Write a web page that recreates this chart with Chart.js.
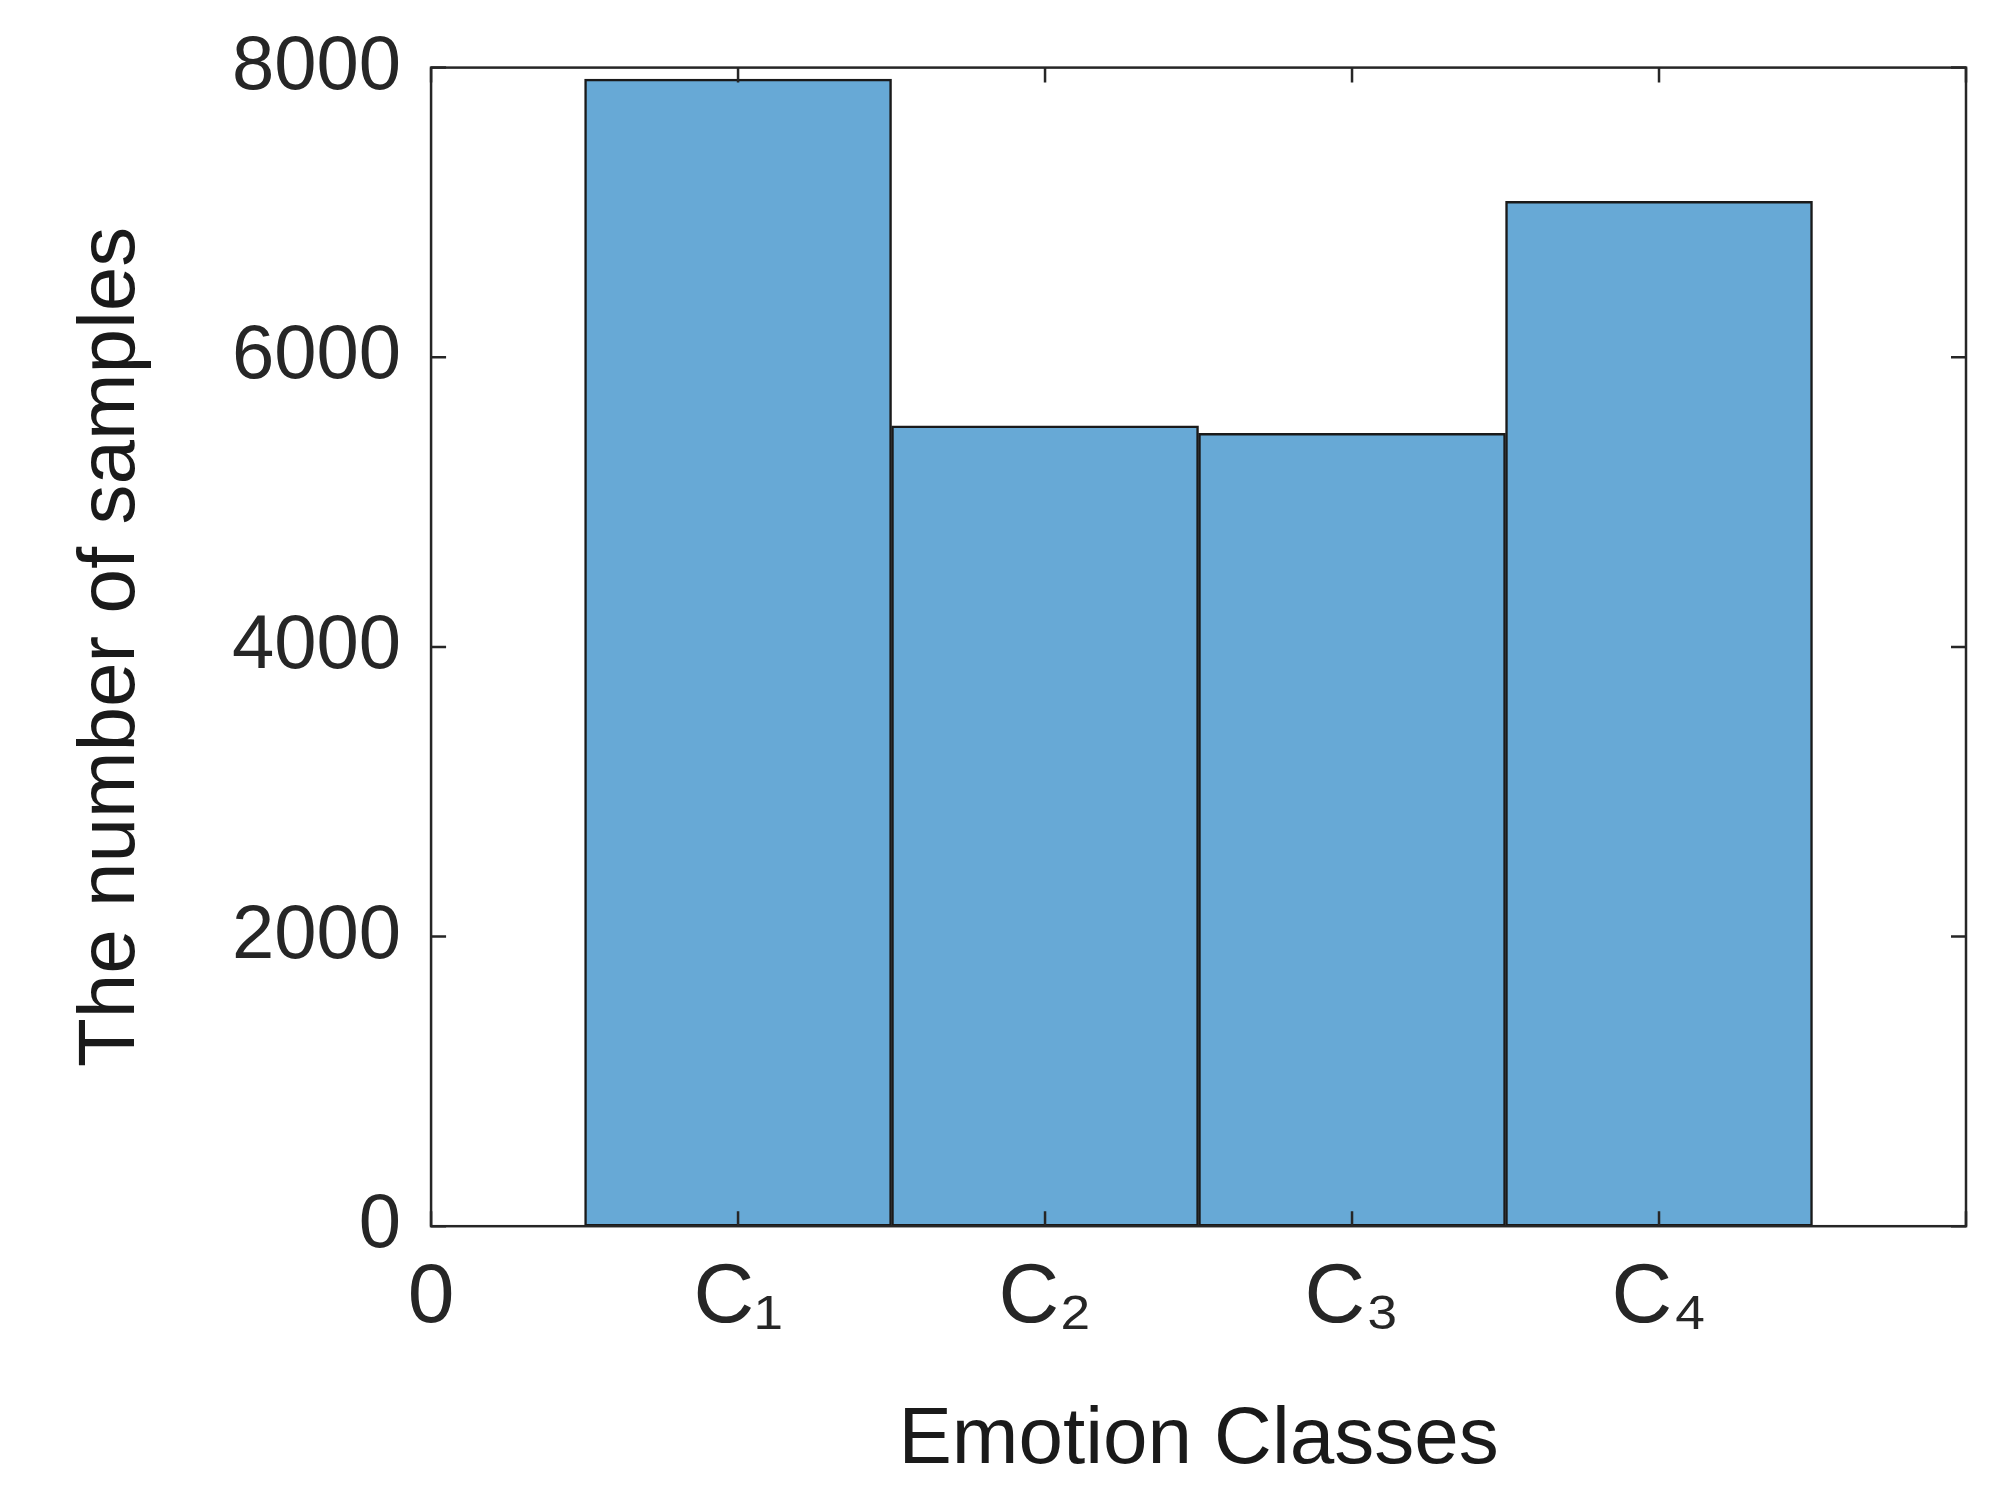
<!DOCTYPE html>
<html>
<head>
<meta charset="utf-8">
<script src="https://cdn.jsdelivr.net/npm/chart.js@4"></script>
<style>
  html, body { margin: 0; background: #fff; }
  #wrap { width: 1989px; height: 1499px; }
</style>
</head>
<body>
<div id="wrap"><canvas id="chart"></canvas></div>
<script>
const classes = ["C₁", "C₂", "C₃", "C₄"];
const positions = [1, 2, 3, 4];
const samples = [7920, 5527, 5474, 7076];
const yTicks = [0, 2000, 4000, 6000, 8000];

const FONT = "'Liberation Sans Narrow', 'Liberation Sans', Arial, sans-serif";

// MATLAB-style box with inward ticks on all four sides
const boxPlugin = {
  id: "box",
  afterDatasetsDraw(chart) {
    const { ctx, chartArea: a, scales } = chart;
    ctx.save();
    ctx.strokeStyle = "#262626";
    ctx.lineWidth = 2.5;
    ctx.strokeRect(a.left, a.top, a.right - a.left, a.bottom - a.top);
    const len = 15;
    ctx.beginPath();
    for (let v = 0; v <= 5; v++) {
      const x = scales.x.getPixelForValue(v);
      ctx.moveTo(x, a.bottom); ctx.lineTo(x, a.bottom - len);
      ctx.moveTo(x, a.top); ctx.lineTo(x, a.top + len);
    }
    yTicks.forEach(v => {
      const y = scales.y.getPixelForValue(v);
      ctx.moveTo(a.left, y); ctx.lineTo(a.left + len, y);
      ctx.moveTo(a.right, y); ctx.lineTo(a.right - len, y);
    });
    ctx.stroke();
    ctx.restore();
  }
};

new Chart(document.getElementById("chart"), {
  type: "bar",
  data: {
    datasets: [{
      data: positions.map((p, i) => ({ x: p, y: samples[i] })),
      backgroundColor: "#67a9d6",
      borderColor: "#1a1a1a",
      borderWidth: 2.5,
      borderSkipped: false,
      barPercentage: 1,
      categoryPercentage: 1
    }]
  },
  options: {
    responsive: true,
    maintainAspectRatio: false,
    animation: false,
    devicePixelRatio: 1,
    layout: { padding: { top: 55, right: 23, left: 60, bottom: 10 } },
    plugins: { legend: { display: false }, tooltip: { enabled: false } },
    scales: {
      x: {
        type: "linear",
        min: 0, max: 5,
        offset: false,
        grid: { display: false },
        border: { display: false },
        afterBuildTicks: s => { s.ticks = [0, 1, 2, 3, 4].map(v => ({ value: v })); },
        ticks: {
          color: "#262626",
          font: { family: FONT, size: 84 },
          padding: 14,
          maxRotation: 0,
          autoSkip: false,
          callback: v => v === 0 ? "0" : classes[v - 1]
        },
        title: {
          display: true, text: "Emotion Classes", color: "#1a1a1a",
          font: { family: FONT, size: 80 }, padding: { top: 30, bottom: 0 }
        }
      },
      y: {
        min: 0, max: 8000,
        grid: { display: false },
        border: { display: false },
        afterBuildTicks: s => { s.ticks = yTicks.map(v => ({ value: v })); },
        ticks: {
          color: "#262626",
          font: { family: FONT, size: 76 },
          padding: 22,
          callback: v => String(v)
        },
        title: {
          display: true, text: "The number of samples", color: "#1a1a1a",
          font: { family: FONT, size: 80 }, padding: { bottom: 50 }
        }
      }
    }
  },
  plugins: [boxPlugin]
});
</script>
</body>
</html>
